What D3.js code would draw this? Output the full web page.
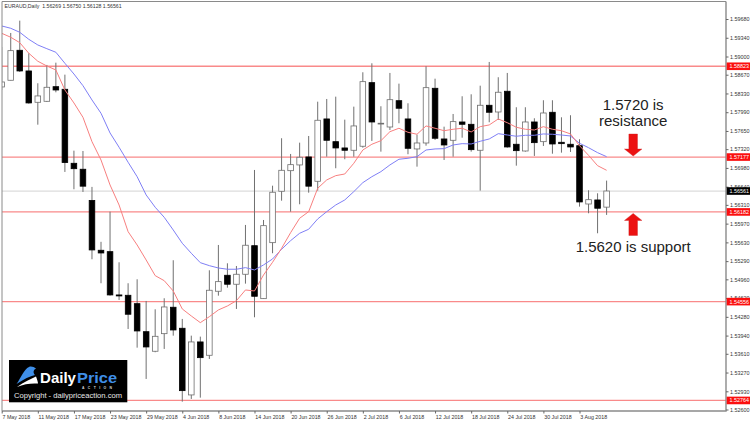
<!DOCTYPE html>
<html>
<head>
<meta charset="utf-8">
<title>EURAUD Daily</title>
<script src="https://cdn.jsdelivr.net/npm/d3@7"></script>
<style>
  html, body { margin: 0; padding: 0; background: #fff; }
  svg { display: block; }
  text { font-family: "Liberation Sans", Arial, sans-serif; }
</style>
</head>
<body>
<svg id="chart" width="750" height="423"></svg>
<script>
// candles, oldest first. down = black body
var opens = [1.58448,1.58569,1.59113,1.58738,1.58170,1.58188,1.58453,1.58406,1.57064,1.56956,1.56391,1.55487,1.55462,1.54677,1.54671,1.54519,1.54011,1.53656,1.53975,1.54454,
  1.54073,1.52864,1.53825,1.53583,1.54744,1.55034,1.54871,1.55052,1.55570,1.54610,1.55625,1.56557,1.56930,1.57034,1.57179,1.56738,1.57868,1.57456,1.57342,1.57300,
  1.57373,1.58526,1.57777,1.57722,1.58199,1.57868,1.57324,1.57432,1.58424,1.57505,1.57481,1.57813,1.57771,1.57300,1.58116,1.57994,1.58370,1.57409,1.57287,1.57813,
  1.57456,1.57989,1.57445,1.57409,1.57383,1.56326,1.56399,1.56269];
var highs = [1.59173,1.59427,1.59650,1.59059,1.58515,1.58847,1.58888,1.58671,1.57293,1.57287,1.56636,1.55640,1.56187,1.55269,1.54889,1.54961,1.54568,1.54417,1.54617,1.55306,
  1.54242,1.53939,1.53921,1.55124,1.55583,1.55251,1.55202,1.55946,1.56943,1.56036,1.56658,1.57518,1.57233,1.57438,1.57559,1.58181,1.58230,1.58272,1.57855,1.58091,
  1.58714,1.58877,1.58098,1.58702,1.58508,1.58152,1.57583,1.58823,1.58598,1.57728,1.57958,1.58279,1.58315,1.58471,1.58901,1.58624,1.58702,1.58080,1.58080,1.57880,
  1.58207,1.58207,1.57898,1.57935,1.57500,1.56575,1.56520,1.56750];
var lows = [1.58393,1.58566,1.58720,1.58145,1.57764,1.58176,1.58351,1.56907,1.56593,1.56544,1.55324,1.54889,1.54664,1.54586,1.54060,1.53721,1.53154,1.53638,1.53698,1.53939,
  1.52742,1.52791,1.52815,1.53516,1.54664,1.54809,1.54423,1.54882,1.54272,1.54605,1.55433,1.56386,1.56187,1.56321,1.56531,1.56568,1.57184,1.56974,1.57137,1.57184,
  1.57347,1.57469,1.57275,1.57668,1.57790,1.57228,1.57003,1.57383,1.57487,1.57124,1.57184,1.57528,1.57275,1.56568,1.57808,1.57849,1.57347,1.57021,1.57275,1.57197,
  1.57378,1.57238,1.57257,1.57269,1.56278,1.56158,1.55795,1.56128];
var closes = [1.58538,1.59106,1.58738,1.58158,1.58285,1.58442,1.58393,1.57077,1.56966,1.56649,1.55493,1.55438,1.54677,1.54659,1.54327,1.54024,1.53734,1.53927,1.54459,1.54042,
  1.52942,1.53825,1.53540,1.54762,1.54918,1.54871,1.55052,1.55578,1.54653,1.55933,1.56539,1.56937,1.57039,1.57173,1.56649,1.57844,1.57481,1.57342,1.57300,1.57741,
  1.58544,1.57813,1.57790,1.58217,1.58062,1.57336,1.57432,1.58435,1.57518,1.57396,1.57819,1.57771,1.57311,1.58116,1.57989,1.58352,1.57360,1.57293,1.57813,1.57438,
  1.57976,1.57414,1.57420,1.57360,1.56363,1.56404,1.56249,1.56561];

// moving averages
var maFast = [1.59421,1.59349,1.59251,1.59059,1.58914,1.58828,1.58756,1.58393,1.58158,1.57898,1.57456,1.57124,1.56671,1.56308,1.55824,1.55583,1.55311,1.55027,1.54936,1.54749,
  1.54423,1.54296,1.54175,1.54283,1.54405,1.54477,1.54573,1.54767,1.54749,1.55039,1.55269,1.55523,1.55806,1.56067,1.56187,1.56611,1.56762,1.56840,1.56870,1.57064,
  1.57305,1.57409,1.57474,1.57637,1.57699,1.57626,1.57590,1.57741,1.57699,1.57655,1.57681,1.57699,1.57632,1.57728,1.57759,1.57868,1.57800,1.57717,1.57681,1.57668,
  1.57728,1.57681,1.57655,1.57596,1.57383,1.57209,1.57021,1.56937];
var maSlow = [1.59554,1.59512,1.59439,1.59312,1.59209,1.59142,1.59077,1.58877,1.58683,1.58471,1.58212,1.57971,1.57614,1.57355,1.57083,1.56821,1.56490,1.56267,1.56085,1.55855,
  1.55614,1.55433,1.55262,1.55208,1.55166,1.55143,1.55143,1.55172,1.55130,1.55221,1.55329,1.55505,1.55661,1.55795,1.55868,1.56055,1.56187,1.56308,1.56399,1.56550,
  1.56713,1.56821,1.56912,1.57034,1.57137,1.57155,1.57184,1.57305,1.57324,1.57329,1.57396,1.57420,1.57414,1.57463,1.57505,1.57601,1.57577,1.57554,1.57572,1.57572,
  1.57596,1.57590,1.57577,1.57559,1.57427,1.57347,1.57257,1.57184];

// drawn levels and last price
var levels = [1.58823,1.57177,1.56182,1.54556,1.52764];
var lastPrice = 1.56561;

var priceTicks = [1.59680,1.59340,1.59000,1.58670,1.58330,1.57990,1.57650,1.57320,1.56980,1.56640,1.56310,1.55970,1.55630,1.55290,1.54960,1.54620,1.54280,1.53940,1.53610,1.53270,1.52930,1.52600];
var dateTicks = ["7 May 2018","11 May 2018","17 May 2018","23 May 2018","29 May 2018","4 Jun 2018","8 Jun 2018","14 Jun 2018","20 Jun 2018","26 Jun 2018","2 Jul 2018","6 Jul 2018","12 Jul 2018","18 Jul 2018","24 Jul 2018","30 Jul 2018","3 Aug 2018"];
var dateTickStep = 4; // one label every 4 candles

var left = 2, right = 726, top_ = 1.5, bottom = 411;
var x = d3.scaleLinear().domain([0, 67]).range([1.7, 606.6]);
var y = d3.scaleLinear().domain([1.526, 1.5968]).range([409.5, 19]);
var bodyW = 5.6;

var svg = d3.select("#chart");
svg.append("defs").append("clipPath").attr("id", "plot")
  .append("rect").attr("x", left).attr("y", top_).attr("width", right - left).attr("height", bottom - top_);

var plot = svg.append("g").attr("clip-path", "url(#plot)");

// last price line goes under everything
plot.append("line")
  .attr("x1", left).attr("x2", right)
  .attr("y1", y(lastPrice)).attr("y2", y(lastPrice))
  .attr("stroke", "#dcdcdc").attr("stroke-width", 1.2);

plot.selectAll(".level").data(levels).enter().append("line")
  .attr("class", "level")
  .attr("x1", left).attr("x2", right)
  .attr("y1", function(d) { return y(d); }).attr("y2", function(d) { return y(d); })
  .attr("stroke", "#f98a8a").attr("stroke-width", 1.3);

var idx = d3.range(opens.length);

plot.selectAll(".wick").data(idx).enter().append("line")
  .attr("class", "wick")
  .attr("x1", function(i) { return x(i); }).attr("x2", function(i) { return x(i); })
  .attr("y1", function(i) { return y(highs[i]); }).attr("y2", function(i) { return y(lows[i]); })
  .attr("stroke", "#707070").attr("stroke-width", 1);

plot.selectAll(".body").data(idx).enter().append("rect")
  .attr("class", "body")
  .attr("x", function(i) { return x(i) - bodyW / 2; })
  .attr("width", bodyW)
  .attr("y", function(i) { return y(Math.max(opens[i], closes[i])); })
  .attr("height", function(i) { return Math.max(0.8, Math.abs(y(opens[i]) - y(closes[i]))); })
  .attr("fill", function(i) { return closes[i] >= opens[i] ? "#fff" : "#000"; })
  .attr("stroke", function(i) { return closes[i] >= opens[i] ? "#6e6e6e" : "#000"; })
  .attr("stroke-width", 0.8);

var line = d3.line().x(function(d, i) { return x(i); }).y(function(d) { return y(d); });

plot.append("path").datum(maSlow).attr("d", line)
  .attr("fill", "none").attr("stroke", "#7f7ff5").attr("stroke-width", 1);
plot.append("path").datum(maFast).attr("d", line)
  .attr("fill", "none").attr("stroke", "#f77f7f").attr("stroke-width", 1);

// frame
svg.append("path")
  .attr("d", "M" + left + "," + bottom + "V" + top_ + "H" + right)
  .attr("fill", "none").attr("stroke", "#8a8a8a").attr("stroke-width", 1);
svg.append("path")
  .attr("d", "M" + left + "," + bottom + "H" + right + "V" + top_)
  .attr("fill", "none").attr("stroke", "#8a8a8a").attr("stroke-width", 1.4);

// title
svg.append("text").attr("x", 4.5).attr("y", 8)
  .attr("font-size", 5.2).attr("fill", "#333")
  .attr("xml:space", "preserve")
  .text("EURAUD,Daily  1.56269 1.56750 1.56128 1.56561");

// price axis
var yAxis = d3.axisRight(y).tickValues(priceTicks).tickSize(2.5).tickFormat(d3.format(".5f"));
var yg = svg.append("g").attr("transform", "translate(" + right + ",0)").call(yAxis);
yg.select(".domain").remove();
yg.selectAll("line").attr("stroke", "#666");
yg.selectAll("text").attr("x", 4).attr("font-size", 5.4).attr("fill", "#333")
  .attr("font-family", "Liberation Sans");

// date axis, labels sit right of their tick
var xTickVals = dateTicks.map(function(d, i) { return i * dateTickStep; });
var xAxis = d3.axisBottom(x).tickValues(xTickVals).tickSize(2.5)
  .tickFormat(function(d) { return dateTicks[d / dateTickStep]; });
var xg = svg.append("g").attr("transform", "translate(0," + bottom + ")").call(xAxis);
xg.select(".domain").remove();
xg.selectAll("line").attr("stroke", "#666");
xg.selectAll("text").attr("text-anchor", "start").attr("x", 0.3).attr("y", 4.5)
  .attr("font-size", 5.3).attr("fill", "#333").attr("font-family", "Liberation Sans");

// level tags on the price axis
function priceTag(value, bg) {
  var g = svg.append("g").attr("transform", "translate(" + right + "," + y(value) + ")");
  g.append("rect").attr("x", 0.7).attr("y", -3.8).attr("width", 24).attr("height", 7.6).attr("fill", bg);
  g.append("text").attr("x", 3.5).attr("y", 2).attr("font-size", 5.4).attr("fill", "#fff")
    .text(d3.format(".5f")(value));
}
levels.forEach(function(d) { priceTag(d, "#fb0f0f"); });
priceTag(lastPrice, "#000");

// notes and arrows
var noteX = x(70) - 0.5;
function note(txt, baseline) {
  svg.append("text").attr("x", noteX).attr("y", baseline).attr("text-anchor", "middle")
    .attr("font-size", 15).attr("fill", "#222").text(txt);
}
note("1.5720 is", 110);
note("resistance", 126);
note("1.5620 is support", 251.5);

function arrow(tipY, dir) {
  var s = d3.path();
  s.moveTo(noteX, tipY);
  s.lineTo(noteX + 8.7, tipY - dir * 7);
  s.lineTo(noteX + 4.3, tipY - dir * 7);
  s.lineTo(noteX + 4.3, tipY - dir * 22);
  s.lineTo(noteX - 4.3, tipY - dir * 22);
  s.lineTo(noteX - 4.3, tipY - dir * 7);
  s.lineTo(noteX - 8.7, tipY - dir * 7);
  s.closePath();
  svg.append("path").attr("d", s.toString())
    .attr("fill", "#ec1111").attr("stroke", "#c22").attr("stroke-width", 0.4);
}
arrow(y(levels[1]) - 1, 1);
arrow(y(levels[2]) + 1.5, -1);

// logo
var logo = svg.append("g");
logo.append("rect").attr("x", 9).attr("y", 360).attr("width", 118.3).attr("height", 42.3).attr("fill", "#000");
logo.append("path")
  .attr("d", "M16.5,384C21,378 24,369 29,367C31,366 34,367 36,368.5C33,370 33,373 35,375C30,376 24,379 16.5,384Z")
  .attr("fill", "#3f8fe8");
logo.append("path")
  .attr("d", "M17,387C24,382 31,379 36,376.5C37,379 38,382 38,383.5C31,383 24,384 17,387Z")
  .attr("fill", "#fff");
logo.append("text").attr("x", 40).attr("y", 383).attr("font-size", 15).attr("font-weight", "bold")
  .attr("fill", "#fff").attr("textLength", 36).attr("lengthAdjust", "spacingAndGlyphs").text("Daily");
logo.append("text").attr("x", 77).attr("y", 383).attr("font-size", 15).attr("font-weight", "bold")
  .attr("fill", "#3f8fe8").attr("textLength", 40).attr("lengthAdjust", "spacingAndGlyphs").text("Price");
logo.append("text").attr("x", 82).attr("y", 388.5).attr("font-size", 3.4).attr("font-weight", "bold")
  .attr("fill", "#d8d8d8").attr("letter-spacing", 3.4).text("ACTION");
logo.append("text").attr("x", 14).attr("y", 398).attr("font-size", 7.2).attr("fill", "#e8e8e8")
  .attr("textLength", 108).attr("lengthAdjust", "spacingAndGlyphs").text("Copyright - dailypriceaction.com");
</script>
</body>
</html>
